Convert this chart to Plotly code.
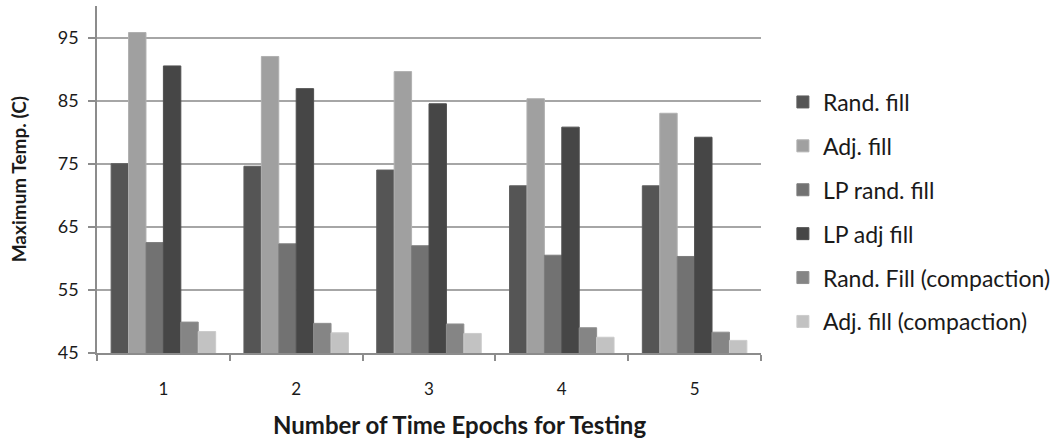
import plotly.graph_objects as go

# Epoch counts on the x axis
epochs = ["1", "2", "3", "4", "5"]

# Maximum temperature (C) for each placement strategy
rand_fill = [75.0, 74.6, 74.0, 71.5, 71.5]
adj_fill = [95.8, 92.0, 89.6, 85.3, 83.0]
lp_rand_fill = [62.5, 62.3, 62.0, 60.5, 60.3]
lp_adj_fill = [90.5, 86.9, 84.5, 80.8, 79.2]
rand_fill_compaction = [49.9, 49.7, 49.6, 49.0, 48.3]
adj_fill_compaction = [48.4, 48.2, 48.1, 47.5, 47.0]

series_names = [
    "Rand. fill",
    "Adj. fill",
    "LP rand. fill",
    "LP adj fill",
    "Rand. Fill (compaction)",
    "Adj. fill (compaction)",
]
series_values = [
    rand_fill,
    adj_fill,
    lp_rand_fill,
    lp_adj_fill,
    rand_fill_compaction,
    adj_fill_compaction,
]
fill_colors = ["#555555", "#a0a0a0", "#727272", "#464646", "#858585", "#c2c2c2"]
edge_colors = ["#5e5e5e", "#b0b0b0", "#7c7c7c", "#4f4f4f", "#8f8f8f", "#cbcbcb"]

FONT = "Lato, Carlito, Calibri, sans-serif"
TEXT = "#1a1a1a"

# Plot area in pixels
W, H = 1062, 441
L, R, T, B = 97, 298, 6, 88
PW, PH = W - L - R, H - T - B


def px_x(x):
    return (x - L) / PW


def px_y(y):
    return (H - B - y) / PH


fig = go.Figure()
for i, (name, vals) in enumerate(zip(series_names, series_values)):
    fig.add_trace(
        go.Bar(
            x=epochs,
            y=vals,
            name=name,
            legendgroup=f"g{i}",
            marker=dict(color=fill_colors[i], line=dict(color=edge_colors[i], width=1)),
        )
    )

fig.update_layout(
    width=W,
    height=H,
    margin=dict(l=L, r=R, t=T, b=B),
    paper_bgcolor="white",
    plot_bgcolor="white",
    barmode="group",
    bargap=0.213,
    bargroupgap=0,
    font=dict(family=FONT, color=TEXT),
    showlegend=True,
    legend=dict(
        x=px_x(786),
        y=px_y(212),
        yanchor="middle",
        xanchor="left",
        traceorder="grouped",
        tracegroupgap=11,
        font=dict(size=23, family=FONT, color=TEXT),
        bgcolor="rgba(0,0,0,0)",
    ),
    xaxis=dict(
        showgrid=False,
        showline=True,
        linecolor="#8c8c8c",
        linewidth=1.5,
        ticks="outside",
        tickson="boundaries",
        ticklen=6,
        tickcolor="#8c8c8c",
        tickwidth=1.5,
        tickfont=dict(size=17, family=FONT, color=TEXT),
        ticklabelstandoff=20,
    ),
    yaxis=dict(
        range=[45, 100],
        tickvals=[45, 55, 65, 75, 85, 95],
        showgrid=True,
        gridcolor="#a6a6a6",
        gridwidth=1.5,
        showline=True,
        linecolor="#8c8c8c",
        linewidth=1.5,
        ticks="outside",
        ticklen=7,
        tickcolor="#8c8c8c",
        tickwidth=1.5,
        tickfont=dict(size=18, family=FONT, color=TEXT),
        ticklabelstandoff=6,
        zeroline=False,
    ),
)

fig.add_annotation(
    text="<b>Maximum Temp. (C)</b>",
    xref="paper",
    yref="paper",
    x=px_x(18),
    y=px_y(179),
    xanchor="center",
    yanchor="middle",
    textangle=-90,
    showarrow=False,
    font=dict(size=19, family=FONT, color=TEXT),
)

fig.add_annotation(
    text="<b>Number of Time Epochs for Testing</b>",
    xref="paper",
    yref="paper",
    x=px_x(461),
    y=px_y(424),
    xanchor="center",
    yanchor="middle",
    showarrow=False,
    font=dict(size=24, family=FONT, color=TEXT),
)

fig.write_html("out.html")
